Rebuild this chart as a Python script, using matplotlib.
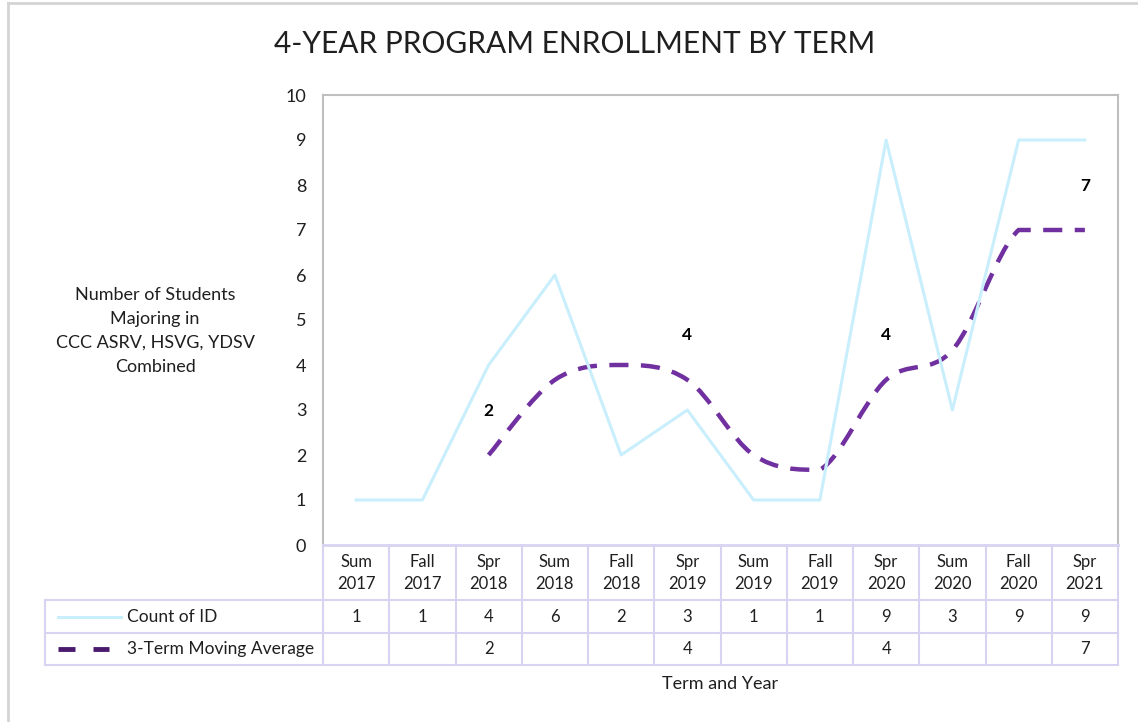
import numpy as np
import matplotlib
matplotlib.use('Agg')
import matplotlib.pyplot as plt
from matplotlib.path import Path
from matplotlib.patches import PathPatch
from matplotlib.lines import Line2D

plt.rcParams['font.family'] = ['Lato', 'DejaVu Sans']

# data
terms = ['Sum\n2017', 'Fall\n2017', 'Spr\n2018', 'Sum\n2018', 'Fall\n2018', 'Spr\n2019',
         'Sum\n2019', 'Fall\n2019', 'Spr\n2020', 'Sum\n2020', 'Fall\n2020', 'Spr\n2021']
count_id = [1, 1, 4, 6, 2, 3, 1, 1, 9, 3, 9, 9]
moving_avg = [None, None, 2.0, 3.67, 4.0, 3.67, 2.0, 1.67, 3.67, 4.33, 7.0, 7.0]
ma_label_idx = [2, 5, 8, 11]

W, H = 1138, 722
LIGHT_BLUE = '#c9eefc'
PURPLE = '#7030a0'
GRID = '#d9d3f2'
TXT = '#1f1f1f'


def fx(px):
    return px / W


def fy(py):
    return 1 - py / H


fig = plt.figure(figsize=(W / 100, H / 100), dpi=100)

# outer frame (left and top only, picture is cropped)
fig.add_artist(Line2D([fx(8), fx(8)], [fy(3), 0], color='#d4d4d4', lw=2))
fig.add_artist(Line2D([fx(8), 1], [fy(3), fy(3)], color='#d4d4d4', lw=2))

L, R, T, B = 323, 1118, 95, 545
ax = fig.add_axes([fx(L), fy(B), fx(R - L), (B - T) / H])
x = np.arange(len(terms))
ax.set_xlim(-0.5, len(terms) - 0.5)
ax.set_ylim(0, 10)
ax.set_yticks(range(0, 11))
ax.set_xticks([])
ax.tick_params(axis='y', length=0, pad=12, labelsize=13, labelcolor=TXT)
for s in ['left', 'top', 'right']:
    ax.spines[s].set_color('#bfbfbf')
    ax.spines[s].set_linewidth(1.5)
ax.spines['bottom'].set_color(GRID)
ax.spines['bottom'].set_linewidth(2)

ax.plot(x, count_id, color=LIGHT_BLUE, lw=2.2)

# smoothed moving average (bezier through the points, no overshoot)
pts = [(i, v) for i, v in enumerate(moving_avg) if v is not None]
pts = np.array(pts, dtype=float)
verts = [pts[0]]
codes = [Path.MOVETO]
n = len(pts)
for i in range(n - 1):
    p0 = pts[max(i - 1, 0)]
    p1 = pts[i]
    p2 = pts[i + 1]
    p3 = pts[min(i + 2, n - 1)]
    c1 = p1 + (p2 - p0) / 6
    c2 = p2 - (p3 - p1) / 6
    lo, hi = min(p1[1], p2[1]), max(p1[1], p2[1])
    c1[1] = np.clip(c1[1], lo, hi)
    c2[1] = np.clip(c2[1], lo, hi)
    verts += [c1, c2, p2]
    codes += [Path.CURVE4] * 3
patch = PathPatch(Path(verts, codes), fill=False, edgecolor=PURPLE, lw=3.2,
                  linestyle=(0, (4.3, 2.8)), capstyle='butt')
ax.add_patch(patch)

for i in ma_label_idx:
    ax.annotate(f'{round(moving_avg[i]):d}', (i, moving_avg[i]), xytext=(0, 32),
                textcoords='offset points', ha='center', va='center',
                fontsize=12.5, fontweight='bold', color='black')

# data table under the plot
LEG = 45
colw = (R - L) / len(terms)
tax = fig.add_axes([fx(LEG), fy(665), fx(R - LEG), 120 / H])
x_left = -0.5 - (L - LEG) / colw
tax.set_xlim(x_left, len(terms) - 0.5)
tax.set_ylim(0, 120)
tax.axis('off')


def tx(px):
    return -0.5 + (px - L) / colw


for yy in [0, 32, 65]:
    tax.plot([x_left, len(terms) - 0.5], [yy, yy], color=GRID, lw=1.5, clip_on=False)
for k in range(len(terms) + 1):
    tax.plot([k - 0.5, k - 0.5], [0, 120], color=GRID, lw=1.5, clip_on=False)
tax.plot([x_left, x_left], [0, 65], color=GRID, lw=1.5, clip_on=False)

for i, t in enumerate(terms):
    tax.text(i, 92, t, ha='center', va='center', fontsize=12, color=TXT,
             linespacing=1.4)
    tax.text(i, 48.5, str(count_id[i]), ha='center', va='center', fontsize=12, color=TXT)
    if i in ma_label_idx:
        tax.text(i, 16, f'{round(moving_avg[i]):d}', ha='center', va='center',
                 fontsize=12, color=TXT)

tax.plot([tx(58), tx(121)], [48.5, 48.5], color=LIGHT_BLUE, lw=2.2)
tax.plot([tx(58), tx(75)], [16, 16], color='#4b1a6e', lw=3.5, solid_capstyle='butt')
tax.plot([tx(93), tx(109)], [16, 16], color='#4b1a6e', lw=3.5, solid_capstyle='butt')
tax.text(tx(127), 48.5, 'Count of ID', ha='left', va='center', fontsize=12.5, color=TXT)
tax.text(tx(127), 16, '3-Term Moving Average', ha='left', va='center', fontsize=12.5, color=TXT)

fig.text(fx(720), fy(684), 'Term and Year', ha='center', va='center', fontsize=13, color=TXT)
fig.text(fx(155), fy(331), 'Number of Students\nMajoring in\nCCC ASRV, HSVG, YDSV\nCombined',
         ha='center', va='center', fontsize=13, color=TXT, linespacing=1.62)
fig.text(fx(575), fy(44), '4-YEAR PROGRAM ENROLLMENT BY TERM', ha='center', va='center',
         fontsize=21.5, color=TXT)

fig.savefig('out.png', dpi=100, facecolor='white')
